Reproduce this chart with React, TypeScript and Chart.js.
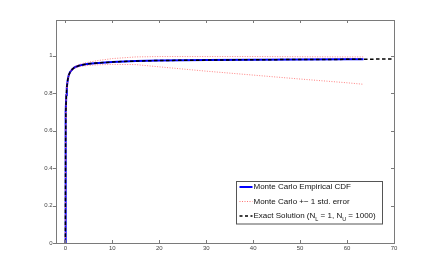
import React, { useEffect, useRef } from "react";
import { Chart, registerables } from "chart.js";

Chart.register(...registerables);

const xEmp = [0, 0.02, 0.05, 0.1, 0.2, 0.3, 0.5, 0.7, 1, 1.5, 2, 3, 4, 5, 7, 10, 15, 20, 30, 40, 50, 60, 63.5];
const empirical = [0, 0.3, 0.55, 0.7, 0.79, 0.83, 0.87, 0.895, 0.912, 0.928, 0.938, 0.947, 0.952, 0.956, 0.961, 0.966, 0.971, 0.974, 0.976, 0.978, 0.979, 0.98, 0.981];
const upperErr = [0, 0.31, 0.56, 0.71, 0.8, 0.84, 0.875, 0.9, 0.917, 0.933, 0.943, 0.953, 0.96, 0.965, 0.974, 0.984, 0.993, 0.995, 0.995, 0.995, 0.994, 0.993, 0.993];
const lowerErr = [0, 0.29, 0.54, 0.69, 0.78, 0.82, 0.865, 0.89, 0.907, 0.923, 0.933, 0.941, 0.945, 0.948, 0.951, 0.953, 0.952, 0.94, 0.917, 0.896, 0.875, 0.855, 0.847];
const xExact = [0, 0.02, 0.05, 0.1, 0.2, 0.3, 0.5, 0.7, 1, 1.5, 2, 3, 4, 5, 7, 10, 15, 20, 30, 40, 50, 60, 70];
const exact = [0, 0.3, 0.55, 0.7, 0.79, 0.83, 0.87, 0.895, 0.912, 0.928, 0.938, 0.947, 0.952, 0.956, 0.961, 0.966, 0.971, 0.974, 0.976, 0.978, 0.979, 0.98, 0.982];
const xTicks = [0, 10, 20, 30, 40, 50, 60, 70];
const yTicks = [0, 0.2, 0.4, 0.6, 0.8, 1];
const yTickLabels = ["0", "0.2", "0.4", "0.6", "0.8", "1"];
const legendLabels = ["Monte Carlo Empirical CDF", "Monte Carlo +\u2212 1 std. error"];

const pts = (xs: number[], ys: number[]) => xs.map((x, i) => ({ x, y: ys[i] }));

const FONT = "'Liberation Sans', Arial, sans-serif";

const axesPlugin = {
  id: "matlabAxes",
  afterDraw(chart: any) {
    const { ctx, chartArea: a, scales } = chart;
    const xs = scales.x;
    const ys = scales.y;
    ctx.save();
    ctx.strokeStyle = "#7a7a7a";
    ctx.lineWidth = 1;
    ctx.strokeRect(Math.round(a.left) + 0.5, Math.round(a.top) + 0.5, Math.round(a.right - a.left), Math.round(a.bottom - a.top));
    ctx.beginPath();
    xTicks.forEach((v) => {
      const px = Math.round(xs.getPixelForValue(v)) + 0.5;
      ctx.moveTo(px, a.bottom);
      ctx.lineTo(px, a.bottom - 3);
      ctx.moveTo(px, a.top);
      ctx.lineTo(px, a.top + 3);
    });
    yTicks.forEach((v) => {
      const py = Math.round(ys.getPixelForValue(v)) + 0.5;
      ctx.moveTo(a.left, py);
      ctx.lineTo(a.left - 3, py);
      ctx.moveTo(a.right, py);
      ctx.lineTo(a.right - 3, py);
    });
    ctx.stroke();

    ctx.fillStyle = "#444";
    ctx.font = `6px ${FONT}`;
    ctx.textAlign = "center";
    ctx.textBaseline = "middle";
    xTicks.forEach((v) => {
      ctx.fillText(String(v), xs.getPixelForValue(v), a.bottom + 5.5);
    });
    ctx.textAlign = "right";
    yTicks.forEach((v, i) => {
      ctx.fillText(yTickLabels[i], a.left - 3.5, ys.getPixelForValue(v));
    });

    // legend
    const lx = 236.5, ly = 181.5, lw = 146, lh = 42.5;
    ctx.fillStyle = "#fff";
    ctx.fillRect(lx, ly, lw, lh);
    ctx.strokeStyle = "#555";
    ctx.strokeRect(lx, ly, lw, lh);
    const rows = [ly + 5.5, ly + 20, ly + 34.5];
    const sx0 = lx + 3, sx1 = lx + 16, tx = lx + 17;
    ctx.lineWidth = 2;
    ctx.strokeStyle = "#0000ff";
    ctx.beginPath();
    ctx.moveTo(sx0, rows[0]);
    ctx.lineTo(sx1, rows[0]);
    ctx.stroke();
    ctx.lineWidth = 1;
    ctx.strokeStyle = "rgba(255,80,80,0.8)";
    ctx.setLineDash([1, 1.5]);
    ctx.beginPath();
    ctx.moveTo(sx0, rows[1]);
    ctx.lineTo(sx1, rows[1]);
    ctx.stroke();
    ctx.lineWidth = 1.5;
    ctx.strokeStyle = "#000";
    ctx.setLineDash([3, 2.5]);
    ctx.beginPath();
    ctx.moveTo(sx0, rows[2]);
    ctx.lineTo(sx1, rows[2]);
    ctx.stroke();
    ctx.setLineDash([]);

    ctx.fillStyle = "#111";
    ctx.textAlign = "left";
    ctx.textBaseline = "middle";
    const f = `8px ${FONT}`;
    const fs = `5.5px ${FONT}`;
    ctx.font = f;
    ctx.fillText(legendLabels[0], tx, rows[0]);
    ctx.fillText(legendLabels[1], tx, rows[1]);
    let x = tx;
    const parts: [string, boolean][] = [
      ["Exact Solution (N", false],
      ["L", true],
      [" = 1, N", false],
      ["U", true],
      [" = 1000)", false],
    ];
    parts.forEach(([s, sub]) => {
      ctx.font = sub ? fs : f;
      ctx.fillText(s, x, rows[2] + (sub ? 3 : 0));
      x += ctx.measureText(s).width;
    });
    ctx.restore();
  },
};

export default function App() {
  const ref = useRef<HTMLCanvasElement | null>(null);
  useEffect(() => {
    if (!ref.current) return;
    const chart = new Chart(ref.current, {
      type: "line",
      data: {
        datasets: [
          {
            label: "Exact",
            data: pts(xExact, exact),
            borderColor: "#000",
            borderWidth: 1.5,
            borderDash: [3.5, 2.5],
            pointRadius: 0,
            tension: 0,
            fill: false,
          },
          {
            label: "Upper",
            data: pts(xEmp, upperErr),
            borderColor: "rgba(255,90,90,0.75)",
            borderWidth: 1,
            borderDash: [1, 1.5],
            pointRadius: 0,
            tension: 0,
            fill: false,
          },
          {
            label: "Lower",
            data: pts(xEmp, lowerErr),
            borderColor: "rgba(255,90,90,0.75)",
            borderWidth: 1,
            borderDash: [1, 1.5],
            pointRadius: 0,
            tension: 0,
            fill: false,
          },
          {
            label: "Empirical",
            data: pts(xEmp, empirical),
            borderColor: "#0000ff",
            borderWidth: 2,
            pointRadius: 0,
            tension: 0,
            fill: false,
          },
        ],
      },
      options: {
        animation: false,
        responsive: false,
        devicePixelRatio: 1,
        layout: { padding: { left: 0, top: 20, right: 42, bottom: 0 } },
        plugins: { legend: { display: false }, tooltip: { enabled: false } },
        scales: {
          x: {
            type: "linear",
            min: -2,
            max: 70,
            grid: { display: false },
            border: { display: false },
            ticks: { display: false },
            afterFit: (s: any) => {
              s.height = 30;
            },
          },
          y: {
            type: "linear",
            min: 0,
            max: 1.19,
            grid: { display: false },
            border: { display: false },
            ticks: { display: false },
            afterFit: (s: any) => {
              s.width = 56;
            },
          },
        },
      },
      plugins: [axesPlugin],
    });
    return () => chart.destroy();
  }, []);
  return (
    <div style={{ position: "absolute", left: 0, top: 0, width: 436, height: 273, background: "#fff" }}>
      <canvas ref={ref} width={436} height={273} style={{ width: 436, height: 273 }} />
    </div>
  );
}
